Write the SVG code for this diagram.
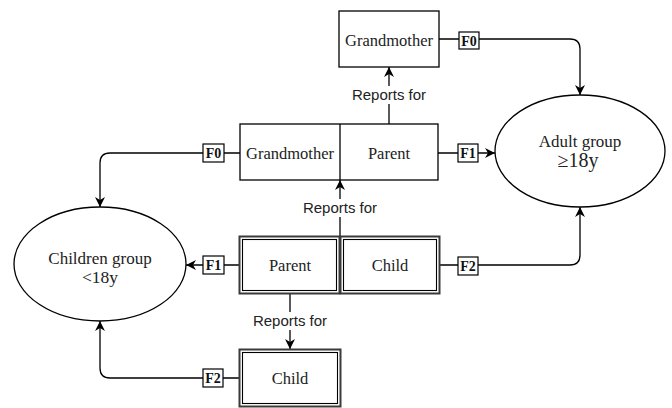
<svg xmlns="http://www.w3.org/2000/svg" width="672" height="408" viewBox="0 0 672 408">
<defs>
<style>
.box{fill:#fff;stroke:#000;stroke-width:1.3}
.outer{fill:#fff;stroke:#3a3a3a;stroke-width:2}
.inner{fill:none;stroke:#000;stroke-width:1.1}
.lbl{font-family:"Liberation Serif","Times New Roman",serif;font-size:16.5px;fill:#222;text-anchor:middle}
.rep{font-family:"Liberation Sans",Arial,sans-serif;font-size:15px;fill:#222;text-anchor:middle}
.f{font-family:"Liberation Serif","Times New Roman",serif;font-size:14px;font-weight:bold;fill:#111;text-anchor:middle}
.fb{fill:#fff;stroke:#000;stroke-width:1.2}
.ln{fill:none;stroke:#000;stroke-width:1.3}
.ell{fill:#fff;stroke:#000;stroke-width:1.3}
</style>
<marker id="ah" viewBox="0 0 10 10" refX="10" refY="5" markerWidth="10" markerHeight="10" markerUnits="userSpaceOnUse" orient="auto">
<path d="M0,0 L10,5 L0,10 L3,5 z" fill="#000"/>
</marker>
</defs>
<rect width="672" height="408" fill="#fff"/>

<g id="connectors">
<path class="ln" d="M439,39 H570 Q580,39 580,49 V95" marker-end="url(#ah)"/>
<path class="ln" d="M438,153 H495" marker-end="url(#ah)"/>
<path class="ln" d="M240,153 H110 Q100,153 100,163 V207" marker-end="url(#ah)"/>
<path class="ln" d="M240,265 H186" marker-end="url(#ah)"/>
<path class="ln" d="M439,265 H570 Q580,265 580,255 V207" marker-end="url(#ah)"/>
<path class="ln" d="M240,378 H110 Q100,378 100,368 V321" marker-end="url(#ah)"/>
<path class="ln" d="M389,124 V67" marker-end="url(#ah)"/>
<path class="ln" d="M340,237 V180" marker-end="url(#ah)"/>
<path class="ln" d="M290,293 V349" marker-end="url(#ah)"/>
<rect x="348" y="86" width="82" height="18" fill="#fff"/>
<text class="rep" x="389" y="100">Reports for</text>
<rect x="299" y="199" width="82" height="18" fill="#fff"/>
<text class="rep" x="340" y="213">Reports for</text>
<rect x="249" y="312" width="82" height="18" fill="#fff"/>
<text class="rep" x="290" y="326">Reports for</text>
<rect class="fb" x="459" y="32" width="20" height="17"/>
<text class="f" x="469" y="45.5">F0</text>
<rect class="fb" x="458" y="144" width="20" height="18"/>
<text class="f" x="468" y="158">F1</text>
<rect class="fb" x="203" y="144" width="21" height="18"/>
<text class="f" x="213.5" y="158">F0</text>
<rect class="fb" x="203" y="256" width="21" height="18"/>
<text class="f" x="213.5" y="270">F1</text>
<rect class="fb" x="458" y="257" width="20" height="18"/>
<text class="f" x="468" y="271">F2</text>
<rect class="fb" x="203" y="369" width="20" height="18"/>
<text class="f" x="213" y="383">F2</text>
</g>

<g id="grandmother-top">
<rect class="box" x="339" y="11" width="100" height="56"/>
<text class="lbl" x="389" y="46">Grandmother</text>
</g>

<g id="grandmother-parent">
<rect class="box" x="240" y="124" width="198" height="56"/>
<line x1="340" y1="124" x2="340" y2="180" stroke="#000" stroke-width="1.3"/>
<text class="lbl" x="290" y="159">Grandmother</text>
<text class="lbl" x="389" y="159">Parent</text>
</g>

<g id="adult-group">
<ellipse class="ell" cx="580" cy="151" rx="85" ry="56"/>
<text class="lbl" x="580" y="147" style="font-size:17px">Adult group</text>
<text class="lbl" x="578" y="167" style="font-size:20px">≥18y</text>
</g>

<g id="children-group">
<ellipse class="ell" cx="100" cy="264" rx="86" ry="57"/>
<text class="lbl" x="100" y="264" style="font-size:17px">Children group</text>
<text class="lbl" x="100" y="283" style="font-size:17.5px">&lt;18y</text>
</g>

<g id="parent-double">
<rect class="outer" x="239.5" y="236.5" width="100" height="57"/>
<rect class="inner" x="242.5" y="239.5" width="94" height="51"/>
<text class="lbl" x="290" y="271">Parent</text>
</g>

<g id="child-double">
<rect class="outer" x="340.5" y="236.5" width="99" height="57"/>
<rect class="inner" x="343.5" y="239.5" width="93" height="51"/>
<text class="lbl" x="390" y="271">Child</text>
</g>

<g id="child-bottom">
<rect class="outer" x="239.5" y="349.5" width="101" height="57"/>
<rect class="inner" x="242.5" y="352.5" width="95" height="51"/>
<text class="lbl" x="290" y="384">Child</text>
</g>
</svg>
